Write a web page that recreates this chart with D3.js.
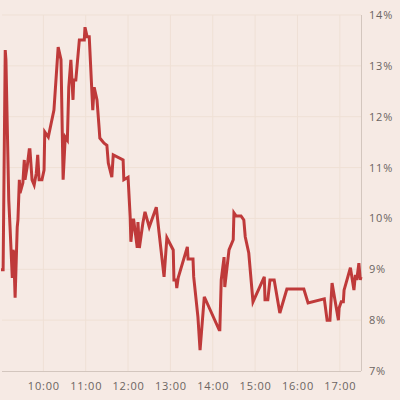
<!DOCTYPE html>
<html><head><meta charset="utf-8">
<script src="https://cdn.jsdelivr.net/npm/d3@7"></script>
<style>
html,body{margin:0;padding:0;background:#f6eae4;}
svg{display:block;}
.tick text{font-family:"Open Sans",sans-serif;font-size:11px;fill:#6b6461;letter-spacing:0.8px;}
</style></head><body>
<svg id="c" width="400" height="400"></svg>
<script>
const times = ["09:00","09:03","09:06","09:07","09:09","09:11","09:13","09:16","09:17","09:18","09:20","09:23","09:24","09:26","09:27","09:31","09:33","09:34","09:37","09:40","09:41","09:44","09:47","09:50","09:52","09:54","09:58","10:01","10:02","10:07","10:15","10:21","10:25","10:28","10:31","10:34","10:36","10:39","10:42","10:43","10:46","10:51","10:58","10:59","11:02","11:05","11:10","11:12","11:16","11:19","11:20","11:26","11:30","11:32","11:37","11:39","11:53","11:54","12:00","12:03","12:04","12:07","12:08","12:13","12:14","12:16","12:21","12:24","12:30","12:40","12:44","12:51","12:55","13:04","13:05","13:08","13:09","13:11","13:24","13:25","13:32","13:33","13:39","13:42","13:48","14:09","14:10","14:12","14:16","14:17","14:23","14:29","14:30","14:33","14:40","14:44","14:46","14:51","14:57","15:13","15:14","15:18","15:21","15:27","15:35","15:45","16:09","16:15","16:38","16:42","16:46","16:49","16:58","16:59","17:02","17:05","17:06","17:15","17:20","17:22","17:24","17:27","17:29","17:30"];
const values = [8.99,8.99,13.31,13.12,11.74,10.36,9.77,8.83,9.38,9.34,8.44,9.83,9.97,10.76,10.50,10.70,11.15,10.76,11.01,11.35,11.35,10.76,10.66,10.89,11.25,10.76,10.76,10.95,11.70,11.60,12.13,13.37,13.12,10.76,11.60,11.54,12.58,13.12,12.33,12.72,12.72,13.51,13.51,13.76,13.57,13.57,12.13,12.58,12.33,11.78,11.58,11.48,11.44,11.09,10.81,11.25,11.15,10.76,10.81,10.03,9.54,9.97,9.97,9.42,9.93,9.42,9.91,10.13,9.83,10.22,9.71,8.85,9.62,9.38,8.79,8.79,8.63,8.83,9.44,9.20,9.20,8.85,8.06,7.41,8.46,7.81,7.81,8.79,9.24,8.65,9.38,9.58,10.11,10.05,10.05,9.97,9.64,9.32,8.36,8.85,8.40,8.40,8.79,8.79,8.14,8.61,8.61,8.34,8.42,8.00,8.00,8.73,8.00,8.24,8.36,8.36,8.59,9.03,8.59,8.89,8.79,9.12,8.79,8.85];
const xTicks = ["10:00","11:00","12:00","13:00","14:00","15:00","16:00","17:00"];
const yTicks = [7,8,9,10,11,12,13,14];

const parse = d3.timeParse("%H:%M");
const data = times.map((t,i)=>({t:parse(t), v:values[i]}));

const svg = d3.select("#c");
const mLeft = 1, mRight = 361, mTop = 15, mBottom = 371;
const x = d3.scaleTime().domain([parse("09:00"), parse("17:30")]).range([mLeft, mRight]);
const y = d3.scaleLinear().domain([7,14]).range([mBottom, mTop]);

// grid
const grid = svg.append("g");
grid.selectAll(".hg").data(yTicks.filter(d=>d>7)).join("line")
  .attr("x1", mLeft+1).attr("x2", mRight)
  .attr("y1", d=>y(d)).attr("y2", d=>y(d))
  .attr("stroke", "#efe0d5").attr("stroke-width", 1);
grid.selectAll(".vg").data(xTicks.map(parse)).join("line")
  .attr("x1", d=>x(d)).attr("x2", d=>x(d))
  .attr("y1", mTop).attr("y2", mBottom)
  .attr("stroke", "#efe0d5").attr("stroke-width", 1);

// axes
const xAxis = d3.axisBottom(x).tickValues(xTicks.map(parse)).tickFormat(d3.timeFormat("%H:%M")).tickSize(0).tickPadding(11);
const gx = svg.append("g").attr("transform", `translate(0,${mBottom})`).call(xAxis);
gx.select(".domain").remove();
svg.append("line").attr("x1", mLeft+1).attr("x2", mRight).attr("y1", mBottom+0.5).attr("y2", mBottom+0.5).attr("stroke", "#d3c6be");

const yAxis = d3.axisRight(y).tickValues(yTicks).tickFormat(d=>d+"%").tickSize(0).tickPadding(8);
const gy = svg.append("g").attr("transform", `translate(${mRight},0)`).call(yAxis);
gy.select(".domain").remove();
svg.append("line").attr("x1", mRight+0.5).attr("x2", mRight+0.5).attr("y1", mTop).attr("y2", mBottom).attr("stroke", "#d3c6be");

// line
const line = d3.line().x(d=>x(d.t)).y(d=>y(d.v));
svg.append("path").datum(data).attr("d", line)
  .attr("fill", "none").attr("stroke", "#bf3a3a").attr("stroke-width", 3).attr("stroke-linejoin", "miter");
</script>
</body></html>
